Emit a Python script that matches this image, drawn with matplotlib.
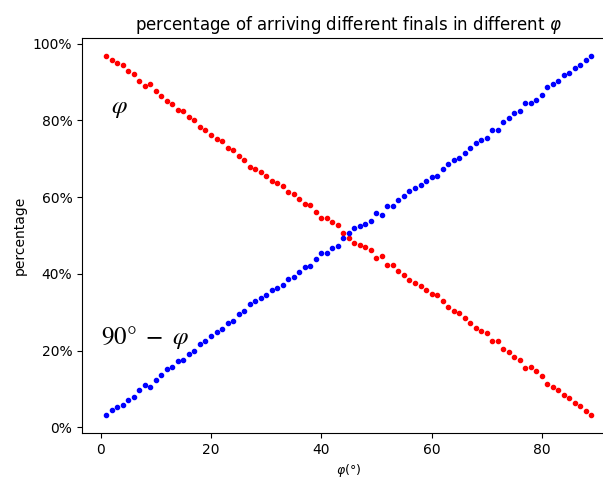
import numpy as np
import matplotlib
matplotlib.use("Agg")
import matplotlib.pyplot as plt
from matplotlib.ticker import PercentFormatter

# angle in degrees
phi = list(range(1, 90))

# share of runs ending in the "phi" final (%)
final_phi = [96.8, 95.6, 94.8, 94.3, 92.9, 92.1, 90.3, 88.9, 89.4, 87.6,
             86.4, 84.9, 84.3, 82.6, 82.4, 80.9, 80.1, 78.2, 77.4, 76.2,
             75.1, 74.5, 72.8, 72.2, 70.6, 69.7, 67.8, 67.2, 66.4, 65.5,
             64.2, 63.6, 62.9, 61.4, 60.8, 59.5, 58.1, 57.9, 56.1, 54.6,
             54.6, 53.4, 52.7, 50.7, 49.3, 48.0, 47.5, 46.9, 46.3, 44.2,
             44.6, 42.4, 42.3, 40.7, 39.7, 38.5, 37.7, 36.8, 35.8, 34.8,
             34.6, 32.8, 31.4, 30.4, 29.7, 28.6, 27.3, 25.9, 25.1, 24.5,
             22.5, 22.6, 20.4, 19.5, 18.2, 17.6, 15.5, 15.6, 14.8, 13.4,
             11.4, 10.5, 9.7, 8.3, 7.6, 6.4, 5.5, 4.3, 3.2]

# share of runs ending in the "90 - phi" final (%)
final_comp = [3.2, 4.4, 5.2, 5.7, 7.1, 7.9, 9.7, 11.1, 10.6, 12.4,
              13.6, 15.1, 15.7, 17.4, 17.6, 19.1, 19.9, 21.8, 22.6, 23.8,
              24.9, 25.5, 27.2, 27.8, 29.4, 30.3, 32.2, 32.8, 33.6, 34.5,
              35.8, 36.4, 37.1, 38.6, 39.2, 40.5, 41.9, 42.1, 43.9, 45.4,
              45.4, 46.6, 47.3, 49.3, 50.7, 52.0, 52.5, 53.1, 53.7, 55.8,
              55.4, 57.6, 57.7, 59.3, 60.3, 61.5, 62.3, 63.2, 64.2, 65.2,
              65.4, 67.2, 68.6, 69.6, 70.3, 71.4, 72.7, 74.1, 74.9, 75.5,
              77.5, 77.4, 79.6, 80.5, 81.8, 82.4, 84.5, 84.4, 85.2, 86.6,
              88.6, 89.5, 90.3, 91.7, 92.4, 93.6, 94.5, 95.7, 96.8]

fig = plt.figure(figsize=(6.03, 4.79), dpi=100)
ax = fig.add_axes([0.136, 0.096, 0.885, 0.825])

ax.plot(phi, final_phi, "r.")
ax.plot(phi, final_comp, "b.")

ax.text(1.8, 82.0, r"$\varphi$", fontsize=18, math_fontfamily="stix")
ax.text(0.1, 21.7, r"$90°\ -\ \varphi$", fontsize=18, math_fontfamily="stix")

ax.yaxis.set_major_formatter(PercentFormatter())
ax.set_title(r"percentage of arriving different finals in different $\varphi$")
ax.set_xlabel(r"$\varphi(\degree)$", fontsize=9)
ax.set_ylabel("percentage")

fig.savefig("out.png", dpi=100)
